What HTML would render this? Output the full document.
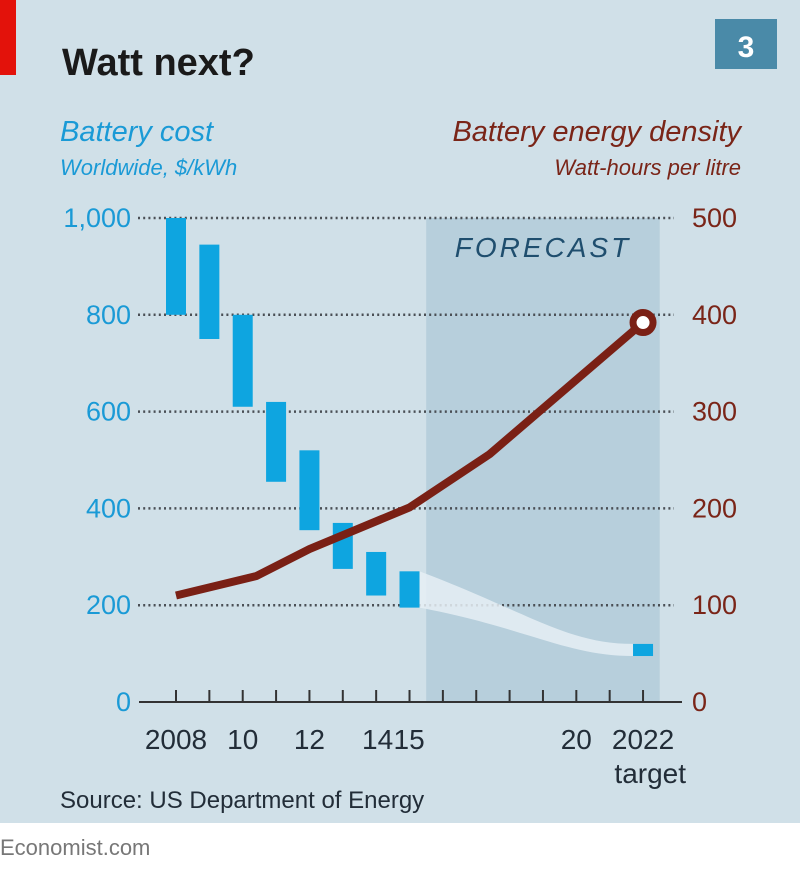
<!DOCTYPE html>
<html><head><meta charset="utf-8">
<style>
html,body{margin:0;padding:0;background:#fff;}
body{width:800px;height:871px;position:relative;overflow:hidden;font-family:"Liberation Sans Narrow","Liberation Sans",sans-serif;}
#panel{position:absolute;left:0;top:0;width:800px;height:823px;background:#d0e0e8;}
svg text{font-family:"Liberation Sans Narrow","Liberation Sans",sans-serif;}
</style></head>
<body>
<div id="panel"></div>
<svg id="chart" width="800" height="871" style="position:absolute;left:0;top:0">
  <rect x="0" y="0" width="16" height="75" fill="#e3120b"/>
  <text x="62" y="75" font-size="38" font-weight="bold" fill="#1a1a1a">Watt next?</text>
  <rect x="715" y="19" width="62" height="50" fill="#4a8aa8"/>
  <text x="746" y="57" font-size="30" font-weight="bold" fill="#fff" text-anchor="middle">3</text>
  <text x="60" y="141" font-size="29" font-style="italic" fill="#1a9ad6">Battery cost</text>
  <text x="60" y="175" font-size="22" font-style="italic" fill="#1a9ad6">Worldwide, $/kWh</text>
  <text x="741" y="141" font-size="29" font-style="italic" fill="#7a2518" text-anchor="end">Battery energy density</text>
  <text x="741" y="175" font-size="22" font-style="italic" fill="#7a2518" text-anchor="end">Watt-hours per litre</text>
  <g id="plot"></g>
  <text x="60" y="808" font-size="24" fill="#222d38">Source: US Department of Energy</text>
  <text x="0" y="855" font-size="22" fill="#777">Economist.com</text>
</svg>
<script>
const years = [2008,2009,2010,2011,2012,2013,2014,2015,2016,2017,2018,2019,2020,2021,2022];
const costYears = [2008,2009,2010,2011,2012,2013,2014,2015,2022];
const costHigh = [1000,945,800,620,520,370,310,270,120];
const costLow = [800,750,610,455,355,275,220,195,95];
const densityYears = [2008,2010.4,2012,2015,2017.4,2022];
const densityValues = [110,130,158,201,256,392];
const leftTicks = [0,200,400,600,800,1000];
const leftTickLabels = ["0","200","400","600","800","1,000"];
const rightTicks = [0,100,200,300,400,500];
const xLabelYears = [2008,2010,2012,2014,2015,2020,2022];
const xLabels = ["2008","10","12","14","15","20","2022"];
const forecastStart = 2015.5, forecastEnd = 2022.5;

const NS="http://www.w3.org/2000/svg";
const g=document.getElementById('plot');
const x0=176, xStep=33.36, yBase=702, yTop=218;
const xs=y=>x0+(y-2008)*xStep;
const yL=v=>yBase-(v/1000)*(yBase-yTop);
const yR=v=>yBase-(v/500)*(yBase-yTop);
function mk(t,a){const e=document.createElementNS(NS,t);for(const k in a)e.setAttribute(k,a[k]);g.appendChild(e);return e;}

let sh=mk('rect',{x:xs(forecastStart),y:yTop,width:xs(forecastEnd)-xs(forecastStart),height:yBase-yTop,fill:'#b7cfdc'});


let ft=mk('text',{x:(xs(forecastStart)+xs(forecastEnd))/2,y:257,'font-size':28,'font-style':'italic','letter-spacing':'3',fill:'#1f4e6e','text-anchor':'middle'});
ft.textContent='FORECAST';



leftTicks.forEach((v,i)=>{
  if(v>0){
    const l=mk('line',{x1:138,x2:674,y1:yL(v),y2:yL(v),stroke:'#4a4f55','stroke-width':2.5,'stroke-dasharray':'2 3.2'});
    
    
  }
  const t=mk('text',{x:131,y:yL(v)+9,'font-size':27,fill:'#1a9ad6','text-anchor':'end'});
  t.textContent=leftTickLabels[i];
  
  
});
rightTicks.forEach(v=>{
  const t=mk('text',{x:692,y:yR(v)+9,'font-size':27,fill:'#7a2518'});
  t.textContent=String(v);
  
  
});

const i15=costYears.indexOf(2015), i22=costYears.indexOf(2022);
const xa=xs(2015)+10, xb=xs(2022)-10, mx=(xa+xb)/2;
const band=mk('path',{d:`M${xa},${yL(costHigh[i15])} C${mx},${yL(costHigh[i15])+40} ${mx+40},${yL(costHigh[i22])} ${xb},${yL(costHigh[i22])} L${xb},${yL(costLow[i22])} C${mx+40},${yL(costLow[i22])} ${mx},${yL(costLow[i15])+20} ${xa},${yL(costLow[i15])} Z`,fill:'#e6eff4',opacity:0.85});



costYears.forEach((yr,i)=>{
  const b=mk('rect',{x:xs(yr)-10,y:yL(costHigh[i]),width:20,height:yL(costLow[i])-yL(costHigh[i]),fill:'#0ea5e0'});
  
  
});

const ax=mk('line',{x1:139,x2:682,y1:yBase,y2:yBase,stroke:'#333',"stroke-width":2});


years.forEach(yr=>{
  const tk=mk('line',{x1:xs(yr),x2:xs(yr),y1:yBase-12,y2:yBase,stroke:'#333','stroke-width':2});
  
  
});
xLabelYears.forEach((yr,i)=>{
  let x=xs(yr), anchor='middle';
  if(xLabels[i]==='14'){x=xs(yr)+17;anchor='end';}
  if(xLabels[i]==='15'){x=xs(yr)-16;anchor='start';}
  const t=mk('text',{x:x,y:749,'font-size':28,fill:'#222d38','text-anchor':anchor});
  t.textContent=xLabels[i];
  
  
});
const tg=mk('text',{x:xs(2022)+43,y:783,'font-size':28,fill:'#222d38','text-anchor':'end'});
tg.textContent='target';



const pts=densityYears.map((yr,i)=>xs(yr)+','+yR(densityValues[i])).join(' ');
const ln=mk('polyline',{points:pts,fill:'none',stroke:'#7a2015','stroke-width':8,'stroke-linejoin':'round'});


const last=densityValues.length-1;
const c=mk('circle',{cx:xs(densityYears[last]),cy:yR(densityValues[last]),r:10,fill:'#fff',stroke:'#7a2015','stroke-width':7});


</script>
</body></html>
